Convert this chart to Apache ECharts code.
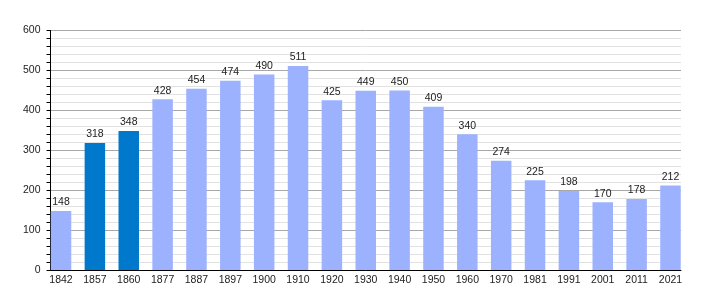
<!DOCTYPE html>
<html>
<head>
<meta charset="utf-8">
<script src="https://cdn.jsdelivr.net/npm/echarts@6/dist/echarts.min.js"></script>
<style>
html,body{margin:0;padding:0;background:#fff;}
#chart{width:710px;height:300px;}
</style>
</head>
<body>
<div id="chart"></div>
<script>
const categories = ['1842','1857','1860','1877','1887','1897','1900','1910','1920','1930','1940','1950','1960','1970','1981','1991','2001','2011','2021'];
const population = [148,318,348,428,454,474,490,511,425,449,450,409,340,274,225,198,170,178,212];
const highlighted = ['1857','1860'];
const yMin = 0, yMax = 600, yStep = 100;

const FONT = '"Liberation Sans", Arial, sans-serif';
const LIGHT = '#9db2ff';
const DARK = '#0079cc';

const chart = echarts.init(document.getElementById('chart'), null, {renderer: 'canvas'});
chart.setOption({
  animation: false,
  backgroundColor: '#fff',
  grid: [
    {left: 50.5, right: 29, top: 30.5, bottom: 30, containLabel: false},
    {left: 44.1, right: 22.6, top: 30.5, bottom: 30, containLabel: false}
  ],
  xAxis: [
    {
      gridIndex: 0, type: 'value', min: 0, max: 1,
      axisLine: {show: true, onZero: false, lineStyle: {color: '#000', width: 1}},
      axisTick: {show: false}, axisLabel: {show: false}, splitLine: {show: false}
    },
    {
      gridIndex: 1, type: 'category', data: categories,
      axisLine: {show: false}, axisTick: {show: false}, splitLine: {show: false},
      axisLabel: {fontSize: 10.5, color: '#222', fontFamily: FONT, margin: 5, interval: 0}
    }
  ],
  yAxis: [
    {
      gridIndex: 0, type: 'value', min: yMin, max: yMax, interval: yStep,
      axisLine: {show: true, lineStyle: {color: '#000', width: 1}},
      axisTick: {show: true, length: 4, lineStyle: {color: '#000'}},
      minorTick: {show: true, splitNumber: 5, length: 4, lineStyle: {color: '#000'}},
      splitLine: {show: true, lineStyle: {color: '#a8a8a8', width: 1}},
      minorSplitLine: {show: true, lineStyle: {color: '#e2e2e2', width: 1}},
      axisLabel: {fontSize: 10.5, color: '#222', fontFamily: FONT, margin: 10}
    },
    {
      gridIndex: 1, type: 'value', min: yMin, max: yMax, show: false
    }
  ],
  series: [{
    type: 'bar',
    xAxisIndex: 1, yAxisIndex: 1,
    barWidth: 20.5,
    data: population.map((v, i) => ({
      value: v,
      itemStyle: {color: highlighted.includes(categories[i]) ? DARK : LIGHT}
    })),
    label: {show: true, position: 'top', distance: 3, fontSize: 10.5, color: '#222', fontFamily: FONT}
  }]
});
</script>
</body>
</html>
